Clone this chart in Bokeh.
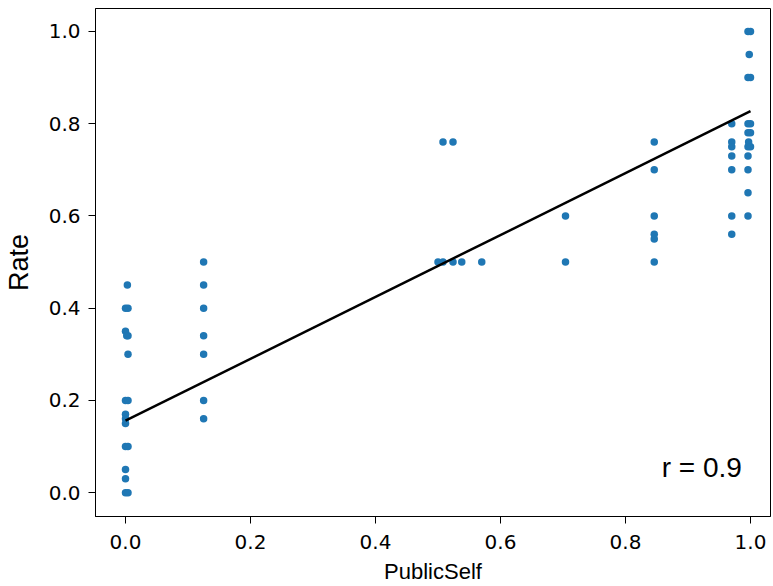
import numpy as np
from bokeh.plotting import figure
from bokeh.models import FixedTicker, NumeralTickFormatter, Label
from bokeh.embed import file_html
from bokeh.resources import INLINE

# ---- data ----
public_self = [
    0.003, 0.000, 0.004, 0.000, 0.004, 0.002, 0.004, 0.000, 0.004, 0.000,
    0.000, 0.000, 0.000, 0.004, 0.000, 0.000, 0.000, 0.004,
    0.125, 0.125, 0.125, 0.125, 0.125, 0.125, 0.125,
    0.508, 0.524, 0.500, 0.508, 0.524, 0.538, 0.570, 0.704, 0.704,
    0.846, 0.846, 0.846, 0.846, 0.846, 0.846,
    0.970, 0.970, 0.970, 0.970, 0.970, 0.970, 0.970,
    0.996, 1.000, 0.998, 0.996, 1.000, 0.996, 1.000, 0.996, 1.000, 0.997,
    0.996, 1.000, 0.996, 0.996, 0.996, 0.996,
]
rate = [
    0.45, 0.40, 0.40, 0.35, 0.34, 0.34, 0.30, 0.20, 0.20, 0.17,
    0.16, 0.15, 0.10, 0.10, 0.05, 0.03, 0.00, 0.00,
    0.50, 0.45, 0.40, 0.34, 0.30, 0.20, 0.16,
    0.76, 0.76, 0.50, 0.50, 0.50, 0.50, 0.50, 0.60, 0.50,
    0.76, 0.70, 0.60, 0.56, 0.55, 0.50,
    0.80, 0.76, 0.75, 0.73, 0.70, 0.60, 0.56,
    1.00, 1.00, 0.95, 0.90, 0.90, 0.80, 0.80, 0.78, 0.78, 0.76,
    0.75, 0.75, 0.73, 0.70, 0.65, 0.60,
]
fit_intercept = 0.156
fit_slope = 0.671
r_label = "r = 0.9"
x_ticks = [0.0, 0.2, 0.4, 0.6, 0.8, 1.0]
y_ticks = [0.0, 0.2, 0.4, 0.6, 0.8, 1.0]

p = figure(width=773, height=586, output_backend="svg", toolbar_location=None,
           x_range=(-0.048, 1.032), y_range=(-0.0517, 1.0496),
           min_border_left=95, min_border_right=3, min_border_top=8,
           min_border_bottom=66)
p.grid.visible = False
p.outline_line_color = "black"
p.outline_line_width = 1
p.background_fill_color = "white"
p.border_fill_color = "white"

fx = [min(public_self), max(public_self)]
fy = [fit_intercept + fit_slope * v for v in fx]

p.scatter(public_self, rate, size=7.5, color="#1f77b4", line_color=None)
p.line(fx, fy, line_color="black", line_width=2.5)

p.add_layout(Label(x=0.922, y=0.054, text=r_label, text_align="center",
                   text_baseline="middle", text_font="Liberation Sans",
                   text_font_size="28px", text_color="black"))

for ax in (p.xaxis[0], p.yaxis[0]):
    ax.major_label_text_font = "DejaVu Sans"
    ax.major_label_text_font_size = "20px"
    ax.major_label_text_color = "black"
    ax.axis_line_color = "black"
    ax.major_tick_line_color = "black"
    ax.major_tick_out = 7
    ax.major_tick_in = 0
    ax.minor_tick_line_color = None
    ax.formatter = NumeralTickFormatter(format="0.0")
    ax.axis_label_text_font = "Liberation Sans"
    ax.axis_label_text_font_style = "normal"
    ax.axis_label_text_color = "black"

p.xaxis.ticker = FixedTicker(ticks=x_ticks)
p.yaxis.ticker = FixedTicker(ticks=y_ticks)
p.xaxis.axis_label = "PublicSelf"
p.xaxis.axis_label_text_font_size = "22px"
p.xaxis.axis_label_standoff = 7
p.xaxis.major_label_standoff = 11
p.yaxis.axis_label = "Rate"
p.yaxis.axis_label_text_font_size = "27px"
p.yaxis.axis_label_standoff = 12
p.yaxis.major_label_standoff = 8

open("out.html", "w").write(file_html(p, INLINE))
